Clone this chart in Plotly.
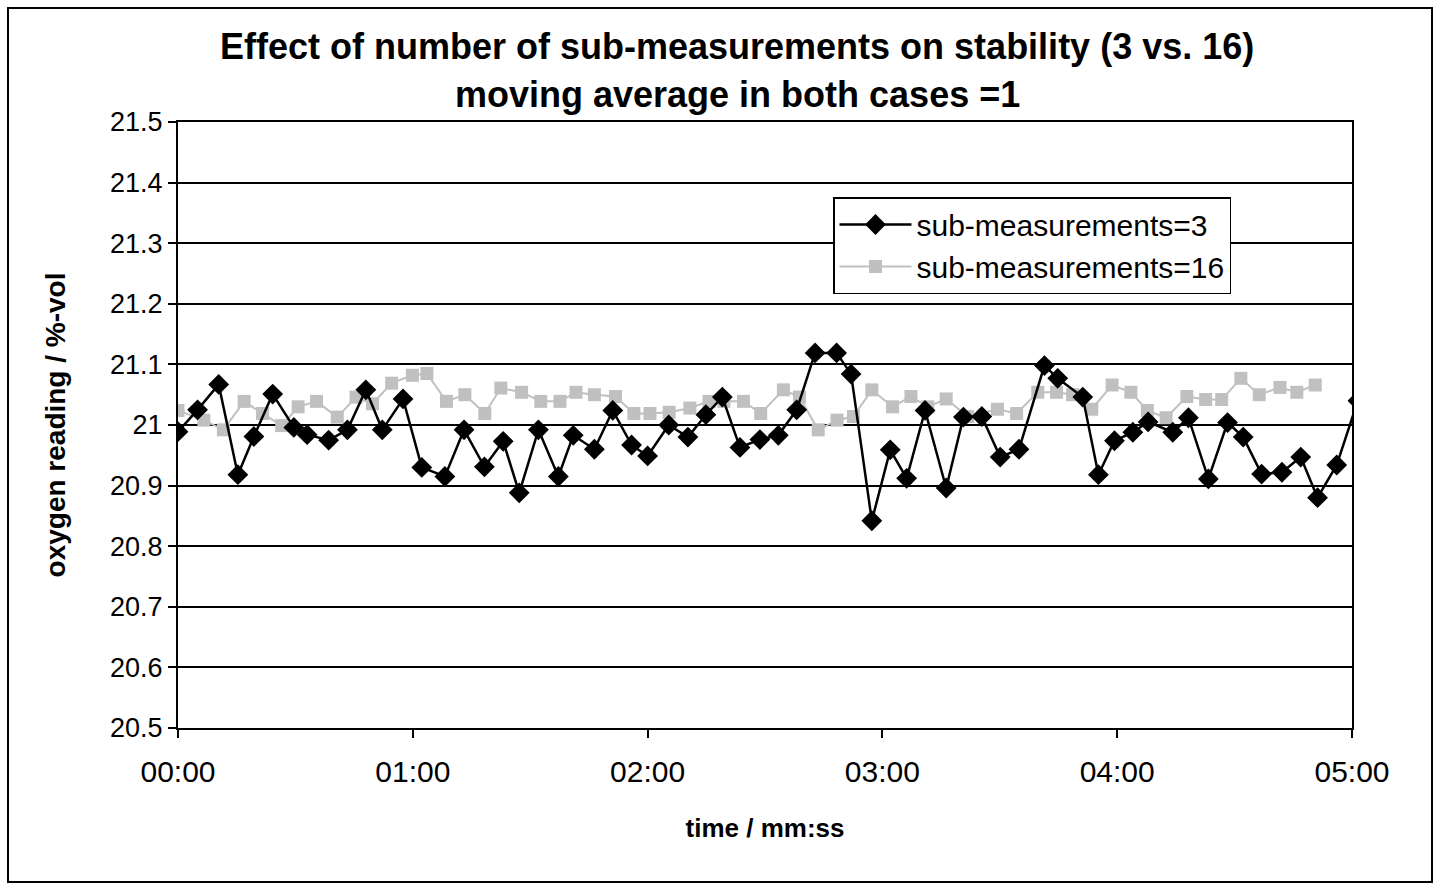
import plotly.graph_objects as go

# time in seconds, oxygen reading in %-vol
t_sub3 = [0, 5.0, 10.4, 15.3, 19.4, 24.2, 29.6, 33.0, 38.5, 43.3, 48.0, 52.2, 57.5, 62.3,
          68.2, 73.1, 78.3, 83.1, 87.2, 92.1, 97.2, 101.0, 106.4, 111.1, 115.9, 120.0,
          125.4, 130.3, 134.9, 139.1, 143.6, 148.7, 153.4, 158.1, 162.8, 168.3, 172.0,
          177.3, 182.0, 186.2, 190.9, 196.3, 200.7, 205.4, 210.1, 214.9, 221.4, 224.8,
          231.2, 235.2, 239.3, 244.0, 247.9, 254.2, 258.2, 263.3, 268.2, 272.2, 276.9,
          282.1, 286.9, 291.2, 296.1, 301.5]
v_sub3 = [20.989, 21.025, 21.067, 20.918, 20.981, 21.051, 20.996, 20.984, 20.975, 20.992,
          21.058, 20.992, 21.043, 20.930, 20.915, 20.992, 20.931, 20.973, 20.888, 20.992,
          20.915, 20.983, 20.960, 21.024, 20.967, 20.949, 21.000, 20.980, 21.017, 21.046,
          20.963, 20.976, 20.983, 21.025, 21.119, 21.119, 21.084, 20.842, 20.959, 20.912,
          21.024, 20.896, 21.013, 21.014, 20.947, 20.960, 21.098, 21.077, 21.046, 20.918,
          20.974, 20.988, 21.005, 20.988, 21.012, 20.911, 21.004, 20.980, 20.919, 20.922,
          20.947, 20.880, 20.934, 21.040]

t_sub16 = [0, 6.6, 11.6, 16.9, 21.6, 26.5, 30.7, 35.4, 40.7, 45.5, 49.7, 54.6, 59.9, 63.6,
           68.6, 73.3, 78.4, 82.5, 87.8, 92.7, 97.6, 101.7, 106.4, 111.8, 116.5, 120.6,
           125.5, 130.8, 135.7, 139.5, 144.5, 148.9, 154.7, 158.8, 163.6, 168.4, 172.6,
           177.3, 182.6, 187.3, 191.6, 196.3, 201.8, 209.4, 214.3, 219.7, 224.5, 228.6,
           233.5, 238.7, 243.5, 247.7, 252.5, 257.8, 262.6, 266.7, 271.6, 276.3, 281.6,
           285.9, 290.6]
v_sub16 = [21.024, 21.008, 20.992, 21.039, 21.019, 20.999, 21.030, 21.039, 21.013, 21.046,
           21.035, 21.069, 21.082, 21.085, 21.039, 21.050, 21.019, 21.061, 21.054, 21.039,
           21.039, 21.054, 21.050, 21.047, 21.019, 21.019, 21.021, 21.028, 21.039, 21.039,
           21.039, 21.019, 21.058, 21.046, 20.992, 21.008, 21.014, 21.058, 21.030, 21.047,
           21.030, 21.043, 21.014, 21.026, 21.019, 21.054, 21.054, 21.050, 21.026, 21.066,
           21.054, 21.024, 21.012, 21.047, 21.042, 21.042, 21.077, 21.050, 21.062, 21.054,
           21.066]

x_tick_vals = [0, 60, 120, 180, 240, 300]
x_tick_text = ["00:00", "01:00", "02:00", "03:00", "04:00", "05:00"]
y_tick_vals = [20.5, 20.6, 20.7, 20.8, 20.9, 21.0, 21.1, 21.2, 21.3, 21.4, 21.5]
y_tick_text = ["20.5", "20.6", "20.7", "20.8", "20.9", "21", "21.1", "21.2", "21.3", "21.4", "21.5"]

FONT = "Liberation Sans, Arial, sans-serif"

fig = go.Figure()
fig.add_trace(go.Scatter(
    x=t_sub16, y=v_sub16, mode="lines+markers", name="sub-measurements=16",
    line=dict(color="#c0c0c0", width=2),
    marker=dict(symbol="square", size=13, color="#c0c0c0"),
))
fig.add_trace(go.Scatter(
    x=t_sub3, y=v_sub3, mode="lines+markers", name="sub-measurements=3",
    line=dict(color="#000000", width=2.5),
    marker=dict(symbol="diamond", size=16, color="#000000"),
))

W, H = 1440, 890
L, R, T, B = 178, 88, 122, 162
pw, ph = W - L - R, H - T - B

def px_x(p):
    return (p - L) / pw

def px_y(p):
    return (H - B - p) / ph

fig.update_layout(
    width=W, height=H,
    margin=dict(l=L, r=R, t=T, b=B),
    paper_bgcolor="white", plot_bgcolor="white",
    font=dict(family=FONT, color="black"),
    showlegend=True,
    legend=dict(
        x=px_x(833), y=px_y(197), xanchor="left", yanchor="top",
        bordercolor="black", borderwidth=1.5, bgcolor="white",
        font=dict(size=30, family=FONT), traceorder="reversed",
        itemwidth=72, tracegroupgap=6,
    ),
    xaxis=dict(
        range=[0, 300], tickvals=x_tick_vals, ticktext=x_tick_text,
        showgrid=False, zeroline=False, showline=True, linecolor="black", linewidth=2,
        ticks="outside", ticklen=8, tickwidth=2, tickcolor="black",
        ticklabelstandoff=8,
        tickfont=dict(size=30, family=FONT),
        title=dict(text="<b>time / mm:ss</b>", font=dict(size=26, family=FONT), standoff=32),
        mirror=True,
    ),
    yaxis=dict(
        range=[20.5, 21.5], tickvals=y_tick_vals, ticktext=y_tick_text,
        showgrid=True, gridcolor="black", gridwidth=2, zeroline=False,
        showline=True, linecolor="black", linewidth=2, mirror=True,
        ticks="outside", ticklen=8, tickwidth=2, tickcolor="black",
        tickfont=dict(size=27, family=FONT),
        title=dict(text="<b>oxygen reading / %-vol</b>", font=dict(size=28, family=FONT), standoff=36),
    ),
    annotations=[
        dict(text="<b>Effect of number of sub-measurements on stability (3 vs. 16)</b>",
             x=px_x(737), y=px_y(47), xref="paper", yref="paper", showarrow=False,
             xanchor="center", yanchor="middle", font=dict(size=36, family=FONT)),
        dict(text="<b>moving average in both cases =1</b>",
             x=px_x(737), y=px_y(94), xref="paper", yref="paper", showarrow=False,
             xanchor="center", yanchor="middle", font=dict(size=36, family=FONT)),
    ],
    shapes=[
        dict(type="rect", xref="paper", yref="paper",
             x0=px_x(8), x1=px_x(1432), y0=px_y(882), y1=px_y(8),
             line=dict(color="black", width=2), fillcolor="rgba(0,0,0,0)", layer="below"),
    ],
)

fig.write_html("out.html")
